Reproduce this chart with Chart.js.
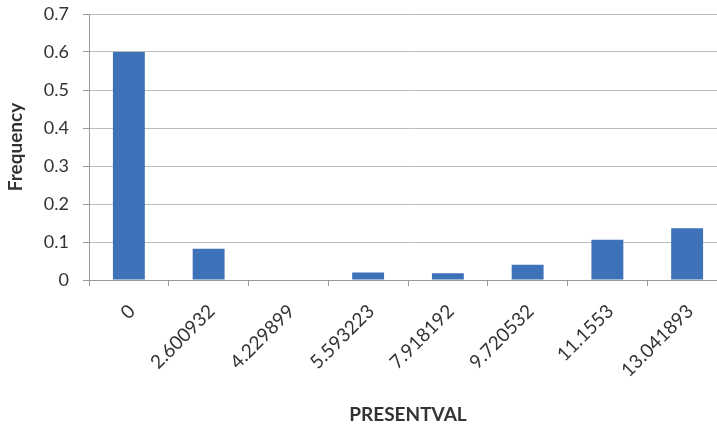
<!DOCTYPE html>
<html>
<head>
<meta charset="utf-8">
<script src="https://cdn.jsdelivr.net/npm/chart.js@4/dist/chart.umd.min.js"></script>
<style>
  html, body { margin: 0; padding: 0; background: #fff; overflow: hidden; }
  #wrap { width: 730px; height: 426px; position: relative; }
</style>
</head>
<body>
<div id="wrap"><canvas id="c"></canvas></div>
<script>
// Histogram of PRESENTVAL: relative frequency per bin
const categories = ['0', '2.600932', '4.229899', '5.593223', '7.918192', '9.720532', '11.1553', '13.041893'];
const frequency = [0.6, 0.082, 0, 0.02, 0.018, 0.04, 0.106, 0.136];
const yTicks = { min: 0, max: 0.7, step: 0.1 };

const textColor = '#333333';
const gridColor = '#bdbdbd';
const axisColor = '#9a9a9a';
const fontFamily = 'Lato, "Open Sans", sans-serif';

new Chart(document.getElementById('c'), {
  type: 'bar',
  data: {
    labels: categories,
    datasets: [{
      label: 'Frequency',
      data: frequency,
      backgroundColor: '#3d71b8',
      borderWidth: 0,
      categoryPercentage: 1.0,
      barPercentage: 0.4
    }]
  },
  options: {
    responsive: true,
    maintainAspectRatio: false,
    animation: false,
    layout: { padding: { top: 0, right: 3, bottom: 0, left: 0 } },
    plugins: { legend: { display: false }, tooltip: { enabled: false } },
    scales: {
      x: {
        offset: true,
        grid: {
          offset: true,
          drawOnChartArea: false,
          drawTicks: true,
          tickLength: 6,
          color: axisColor
        },
        border: { display: true, color: axisColor, width: 1 },
        ticks: {
          color: textColor,
          font: { family: fontFamily, size: 19 },
          minRotation: 45,
          maxRotation: 45,
          padding: 14,
          labelOffset: 3,
          autoSkip: false
        },
        title: {
          display: true,
          text: 'PRESENTVAL',
          color: textColor,
          font: { family: fontFamily, size: 19, weight: 'bold' },
          padding: { top: 0, bottom: 0 }
        },
        afterFit(scale) { scale.height = 146; }
      },
      y: {
        min: yTicks.min,
        max: yTicks.max,
        grid: {
          color: gridColor,
          tickLength: 6,
          tickColor: axisColor
        },
        border: { display: true, color: axisColor, width: 1 },
        ticks: {
          stepSize: yTicks.step,
          color: textColor,
          font: { family: fontFamily, size: 18 },
          padding: 14,
          callback: v => (v === 0 ? '0' : Number(v).toFixed(1))
        },
        title: {
          display: true,
          text: 'Frequency',
          color: textColor,
          font: { family: fontFamily, size: 19, weight: 'bold' },
          padding: { top: 4, bottom: 0 }
        },
        afterFit(scale) {
          scale.width = 89;
          // keep the top gridline close to the canvas edge
          scale.paddingTop = 14;
        }
      }
    }
  }
});
</script>
</body>
</html>
